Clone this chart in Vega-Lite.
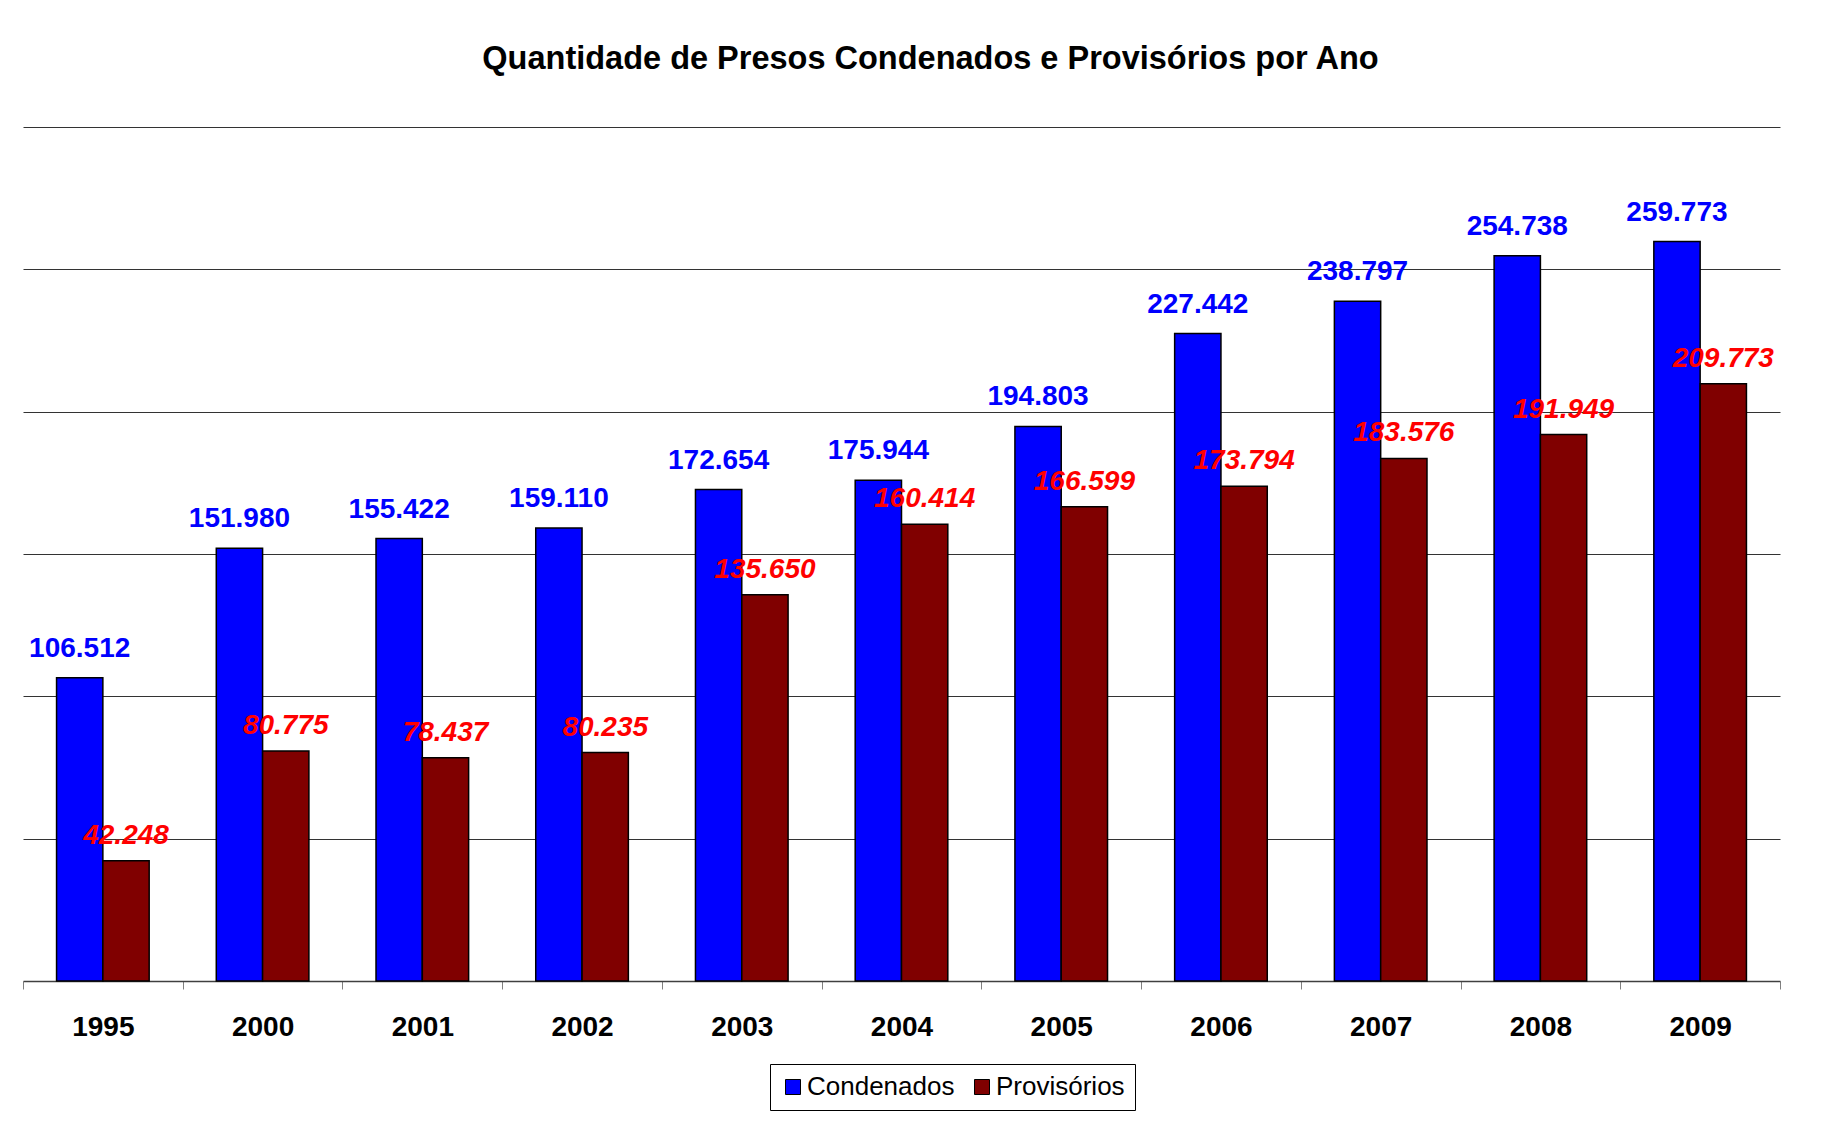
{
  "$schema": "https://vega.github.io/schema/vega-lite/v6.json",
  "width": 1757,
  "height": 854,
  "autosize": {"type": "none"},
  "padding": {"left": 23, "top": 127, "right": 51, "bottom": 140},
  "background": "white",
  "config": {
    "locale": {"number": {"decimal": ",", "thousands": ".", "grouping": [3], "currency": ["R$", ""]}},
    "view": {"stroke": null},
    "font": "Liberation Sans"
  },
  "title": {
    "text": "Quantidade de Presos Condenados e Provisórios por Ano",
    "fontSize": 32.5,
    "fontWeight": "bold",
    "color": "black",
    "font": "Liberation Sans",
    "anchor": "middle",
    "frame": "group",
    "dx": 29,
    "offset": 26,
    "baseline": "alphabetic"
  },
  "data": {
    "values": [
      {"ano": "1995", "tipo": "Condenados", "valor": 106512},
      {"ano": "1995", "tipo": "Provisórios", "valor": 42248},
      {"ano": "2000", "tipo": "Condenados", "valor": 151980},
      {"ano": "2000", "tipo": "Provisórios", "valor": 80775},
      {"ano": "2001", "tipo": "Condenados", "valor": 155422},
      {"ano": "2001", "tipo": "Provisórios", "valor": 78437},
      {"ano": "2002", "tipo": "Condenados", "valor": 159110},
      {"ano": "2002", "tipo": "Provisórios", "valor": 80235},
      {"ano": "2003", "tipo": "Condenados", "valor": 172654},
      {"ano": "2003", "tipo": "Provisórios", "valor": 135650},
      {"ano": "2004", "tipo": "Condenados", "valor": 175944},
      {"ano": "2004", "tipo": "Provisórios", "valor": 160414},
      {"ano": "2005", "tipo": "Condenados", "valor": 194803},
      {"ano": "2005", "tipo": "Provisórios", "valor": 166599},
      {"ano": "2006", "tipo": "Condenados", "valor": 227442},
      {"ano": "2006", "tipo": "Provisórios", "valor": 173794},
      {"ano": "2007", "tipo": "Condenados", "valor": 238797},
      {"ano": "2007", "tipo": "Provisórios", "valor": 183576},
      {"ano": "2008", "tipo": "Condenados", "valor": 254738},
      {"ano": "2008", "tipo": "Provisórios", "valor": 191949},
      {"ano": "2009", "tipo": "Condenados", "valor": 259773},
      {"ano": "2009", "tipo": "Provisórios", "valor": 209773}
    ]
  },
  "encoding": {
    "x": {
      "field": "ano",
      "type": "nominal",
      "sort": null,
      "scale": {"paddingInner": 0, "paddingOuter": 0},
      "axis": {
        "title": null,
        "labelAngle": 0,
        "labelFontSize": 28,
        "labelFontWeight": "bold",
        "labelColor": "black",
        "labelFont": "Liberation Sans",
        "labelPadding": 24,
        "tickBand": "extent",
        "tickSize": 8,
        "tickColor": "#808080",
        "domainColor": "#404040",
        "domainWidth": 1.5,
        "grid": false
      }
    },
    "xOffset": {"field": "tipo", "type": "nominal", "scale": {"domain": ["Condenados", "Provisórios"], "paddingInner": 0, "paddingOuter": 0.7246}},
    "y": {
      "field": "valor",
      "type": "quantitative",
      "scale": {"domain": [0, 300000], "nice": false},
      "axis": {
        "title": null,
        "labels": false,
        "ticks": false,
        "domain": false,
        "grid": true,
        "values": [50000, 100000, 150000, 200000, 250000, 300000],
        "gridColor": "#333333",
        "gridWidth": 1
      }
    }
  },
  "layer": [
    {
      "mark": {"type": "bar", "stroke": "black", "strokeWidth": 1.5},
      "encoding": {
        "color": {
          "field": "tipo",
          "type": "nominal",
          "scale": {"domain": ["Condenados", "Provisórios"], "range": ["#0000FF", "#800000"]},
          "legend": {
            "title": null,
            "orient": "none",
            "legendX": 747,
            "legendY": 937,
            "direction": "horizontal",
            "symbolType": "square",
            "symbolSize": 225,
            "symbolStrokeColor": "black",
            "symbolStrokeWidth": 1,
            "labelFontSize": 26,
            "labelFont": "Liberation Sans",
            "labelColor": "black",
            "labelOffset": 1,
            "strokeColor": "black",
            "fillColor": "white",
            "padding": 10,
            "columnPadding": 14
          }
        }
      }
    },
    {
      "transform": [{"filter": "datum.tipo === 'Condenados'"}],
      "mark": {"type": "text", "color": "#0000FF", "fontWeight": "bold", "fontSize": 28, "font": "Liberation Sans", "baseline": "alphabetic", "dy": -21},
      "encoding": {"text": {"field": "valor", "type": "quantitative", "format": ",d"}}
    },
    {
      "transform": [{"filter": "datum.tipo === 'Provisórios'"}],
      "mark": {"type": "text", "color": "#FF0000", "fontWeight": "bold", "fontStyle": "italic", "fontSize": 28, "font": "Liberation Sans", "baseline": "alphabetic", "dy": -17},
      "encoding": {"text": {"field": "valor", "type": "quantitative", "format": ",d"}}
    }
  ]
}
